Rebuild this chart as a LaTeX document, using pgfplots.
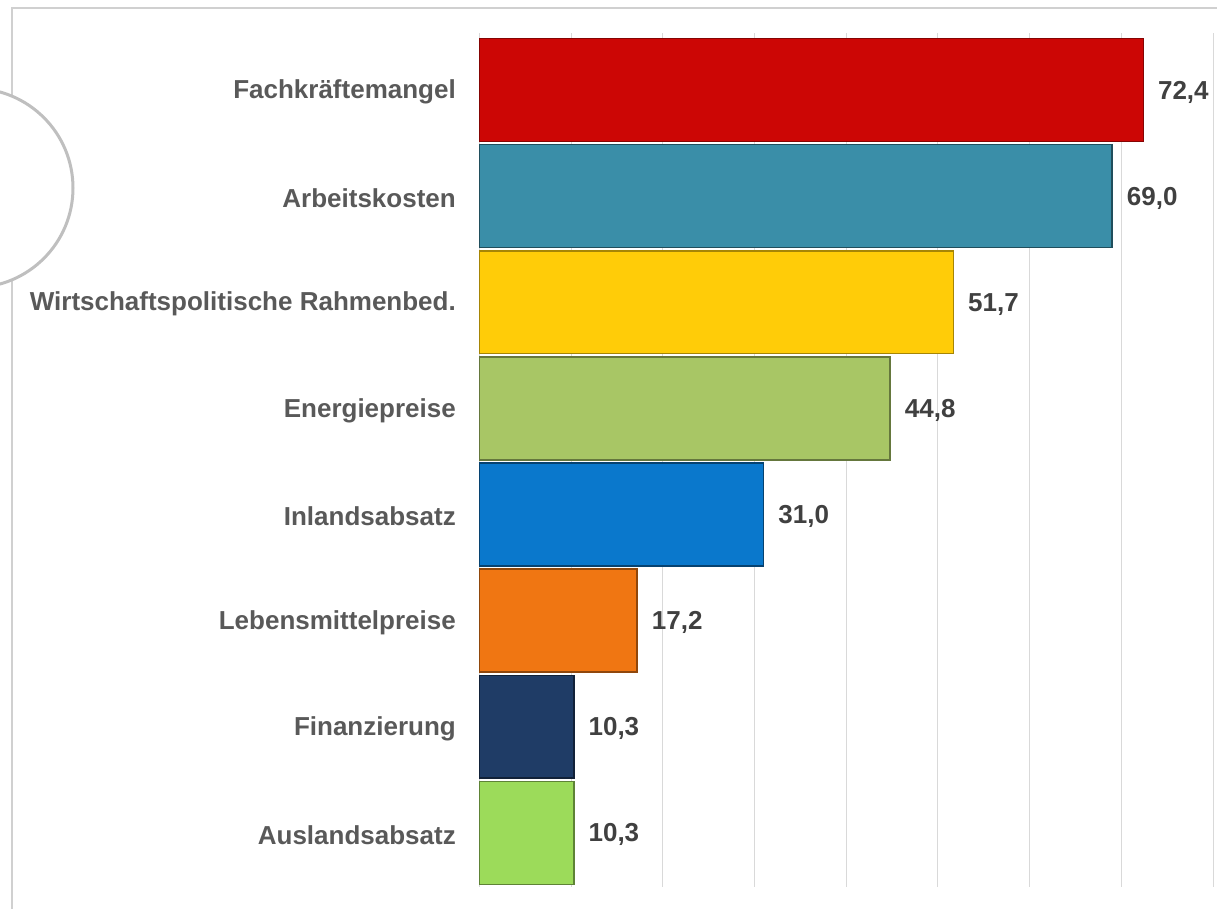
\documentclass[border=0pt]{standalone}
\usepackage{fontspec}
\setmainfont{Liberation Sans}
\usepackage{pgfplots}
\pgfplotsset{compat=1.18}
\definecolor{cA}{HTML}{CC0605}
\definecolor{cB}{HTML}{3A8EA8}
\definecolor{cC}{HTML}{FFCC08}
\definecolor{cD}{HTML}{A8C665}
\definecolor{cE}{HTML}{0A78CC}
\definecolor{cF}{HTML}{F07612}
\definecolor{cG}{HTML}{1F3C66}
\definecolor{cH}{HTML}{9CDB5A}
\definecolor{labcol}{HTML}{595959}
\definecolor{valcol}{HTML}{404040}
\definecolor{gridcol}{HTML}{D9D9D9}
\definecolor{framecol}{HTML}{D0D0D0}
\definecolor{circcol}{HTML}{BFBFBF}
\begin{document}
\begin{tikzpicture}[x=1pt,y=1pt]
\path[use as bounding box] (0,0) rectangle (1217,-909);
\clip (0,0) rectangle (1217,-909);
\draw[framecol, line width=2pt] (12,-940) -- (12,-8) -- (1240,-8);
\draw[circcol, fill=white, line width=3pt] (-26.6,-188) circle[radius=99.6];
\begin{axis}[
  at={(479.4pt,-33pt)}, anchor=north west,
  scale only axis, width=733.6pt, height=854pt,
  xmin=0, xmax=80, ymin=-0.537, ymax=7.51, y dir=reverse,
  xbar, bar shift=0pt, bar width=0.97,
  axis line style={draw=none},
  xtick={0,10,...,80}, xticklabels={},
  xmajorgrids, grid style={gridcol, line width=1pt},
  major tick length=0pt,
  ytick={0,...,7},
  yticklabels={Fachkräftemangel,Arbeitskosten,Wirtschaftspolitische Rahmenbed.,Energiepreise,Inlandsabsatz,Lebensmittelpreise,Finanzierung,Auslandsabsatz},
  yticklabel style={anchor=east, inner sep=0pt, xshift=-23.4pt, yshift=-2pt, font=\bfseries\fontsize{26}{26}\selectfont, text=labcol},
  point meta=x,
  nodes near coords={\pgfmathprintnumber[fixed,fixed zerofill,precision=1,use comma,assume math mode=true]{\pgfplotspointmeta}},
  every node near coord/.append style={anchor=west, inner sep=0pt, xshift=14pt, yshift=-2pt, font=\bfseries\fontsize{26}{26}\selectfont, text=valcol},
  clip=false,
]
\addplot[fill=cA, draw=cA!65!black, line width=1.5pt] coordinates {(72.4,0)};
\addplot[fill=cB, draw=cB!55!black, line width=1.5pt] coordinates {(69.0,1)};
\addplot[fill=cC, draw=cC!65!black, line width=1.5pt] coordinates {(51.7,2)};
\addplot[fill=cD, draw=cD!60!black, line width=1.5pt] coordinates {(44.8,3)};
\addplot[fill=cE, draw=cE!55!black, line width=1.5pt] coordinates {(31.0,4)};
\addplot[fill=cF, draw=cF!60!black, line width=1.5pt] coordinates {(17.2,5)};
\addplot[fill=cG, draw=cG!55!black, line width=1.5pt] coordinates {(10.3,6)};
\addplot[fill=cH, draw=cH!60!black, line width=1.5pt] coordinates {(10.3,7)};
\end{axis}
\end{tikzpicture}
\end{document}
